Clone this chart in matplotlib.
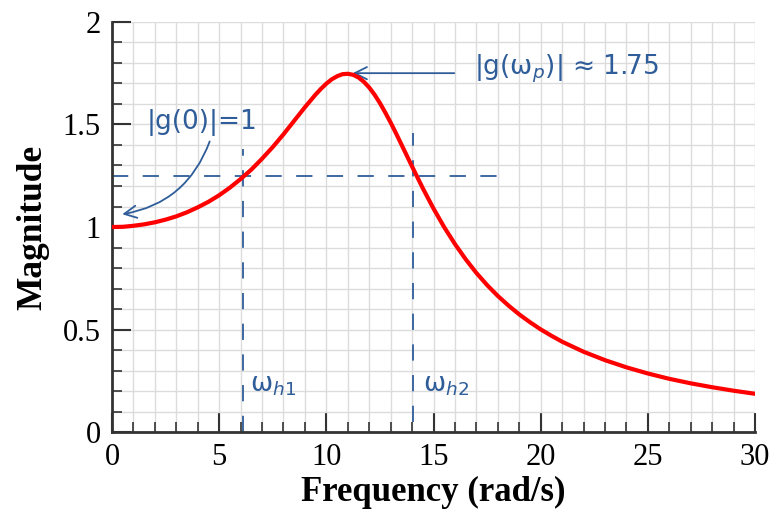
import numpy as np
import matplotlib.pyplot as plt
from matplotlib.ticker import MultipleLocator

# magnitude
freq = [0, 0.5, 1, 1.5, 2, 2.5, 3, 3.5, 4, 4.5, 5, 5.5, 6, 6.5, 7, 7.5, 8,
        8.5, 9, 9.5, 9.75, 10, 10.25, 10.5, 10.75, 11, 11.25, 11.5, 11.75,
        12, 12.25, 12.5, 12.75, 13, 13.25, 13.5, 13.75, 14, 14.5, 15, 15.5,
        16, 16.5, 17, 17.5, 18, 18.5, 19, 19.5, 20, 20.5, 21, 22, 23, 24,
        25, 26, 27, 28, 29, 30]
mag = [1.0, 1.001, 1.006, 1.013, 1.023, 1.036, 1.052, 1.072, 1.096, 1.123,
       1.155, 1.192, 1.234, 1.280, 1.333, 1.390, 1.452, 1.518, 1.584, 1.646,
       1.674, 1.699, 1.720, 1.735, 1.745, 1.747, 1.742, 1.729, 1.708, 1.680,
       1.645, 1.604, 1.558, 1.509, 1.457, 1.403, 1.349, 1.295, 1.189, 1.090,
       0.999, 0.917, 0.843, 0.776, 0.717, 0.664, 0.617, 0.574, 0.536, 0.501,
       0.470, 0.441, 0.392, 0.351, 0.316, 0.286, 0.260, 0.238, 0.219, 0.202,
       0.187]

# hand drawn marks
level = 1.25
w_h1 = 6.1
w_h2 = 14.05
peak_w, peak_m = 11.0, 1.75

pen = '#2f5d99'
plt.rcParams['font.family'] = ['Liberation Serif', 'DejaVu Serif']

fig = plt.figure(figsize=(7.7, 5.09), dpi=100)
ax = fig.add_axes([0.1455, 0.151, 0.835, 0.806])

ax.plot(freq, mag, color='#ff0000', linewidth=3.0, zorder=5)

ax.set_xlim(0, 30)
ax.set_ylim(0, 2)
ax.xaxis.set_major_locator(MultipleLocator(5))
ax.xaxis.set_minor_locator(MultipleLocator(1))
ax.yaxis.set_major_locator(MultipleLocator(0.5))
ax.yaxis.set_minor_locator(MultipleLocator(0.1))
ax.yaxis.set_major_formatter(plt.FuncFormatter(lambda v, p: '%g' % v))
ax.grid(which='both', color='#dcdcdc', linewidth=1.0)
ax.set_axisbelow(True)
ax.tick_params(which='major', direction='in', length=14, width=1.5,
               color='#333333', labelsize=22, pad=8)
ax.tick_params(which='minor', direction='in', length=7, width=1.2,
               color='#333333')
ax.tick_params(top=False, right=False, which='both')
for s in ['top', 'right']:
    ax.spines[s].set_visible(False)
for s in ['left', 'bottom']:
    ax.spines[s].set_linewidth(2)
    ax.spines[s].set_color('#333333')

ax.set_xlabel('Frequency (rad/s)', fontsize=25, fontweight='bold', labelpad=3)
ax.set_ylabel('Magnitude', fontsize=25.5, fontweight='bold', labelpad=10)

# annotations in pen colour
hand = dict(color=pen, family=['DejaVu Sans'], fontsize=19)
dash = dict(color=pen, linewidth=1.3, linestyle=(0, (9, 8)))
ax.plot([0, 18], [level, level], **dash)
ax.plot([w_h1, w_h1], [0, 1.38], **dash)
ax.plot([w_h2, w_h2], [0.05, 1.46], **dash)

ax.annotate('', xy=(peak_w + 0.1, peak_m), xytext=(16.1, peak_m),
            arrowprops=dict(arrowstyle='->', color=pen, lw=1.3, mutation_scale=22))
ax.text(16.9, 1.77, '|g(ω$_p$)| ≈ 1.75', va='center', ha='left', **hand)
ax.text(1.6, 1.51, '|g(0)|=1', va='center', ha='left', **hand)
ax.annotate('', xy=(0.35, 1.06), xytext=(4.6, 1.43),
            arrowprops=dict(arrowstyle='->', color=pen, lw=1.3, mutation_scale=22,
                            connectionstyle='arc3,rad=-0.3'))
ax.text(6.45, 0.23, 'ω$_{h1}$', va='center', ha='left', **hand)
ax.text(14.5, 0.23, 'ω$_{h2}$', va='center', ha='left', **hand)

fig.savefig('out.png', dpi=100)
